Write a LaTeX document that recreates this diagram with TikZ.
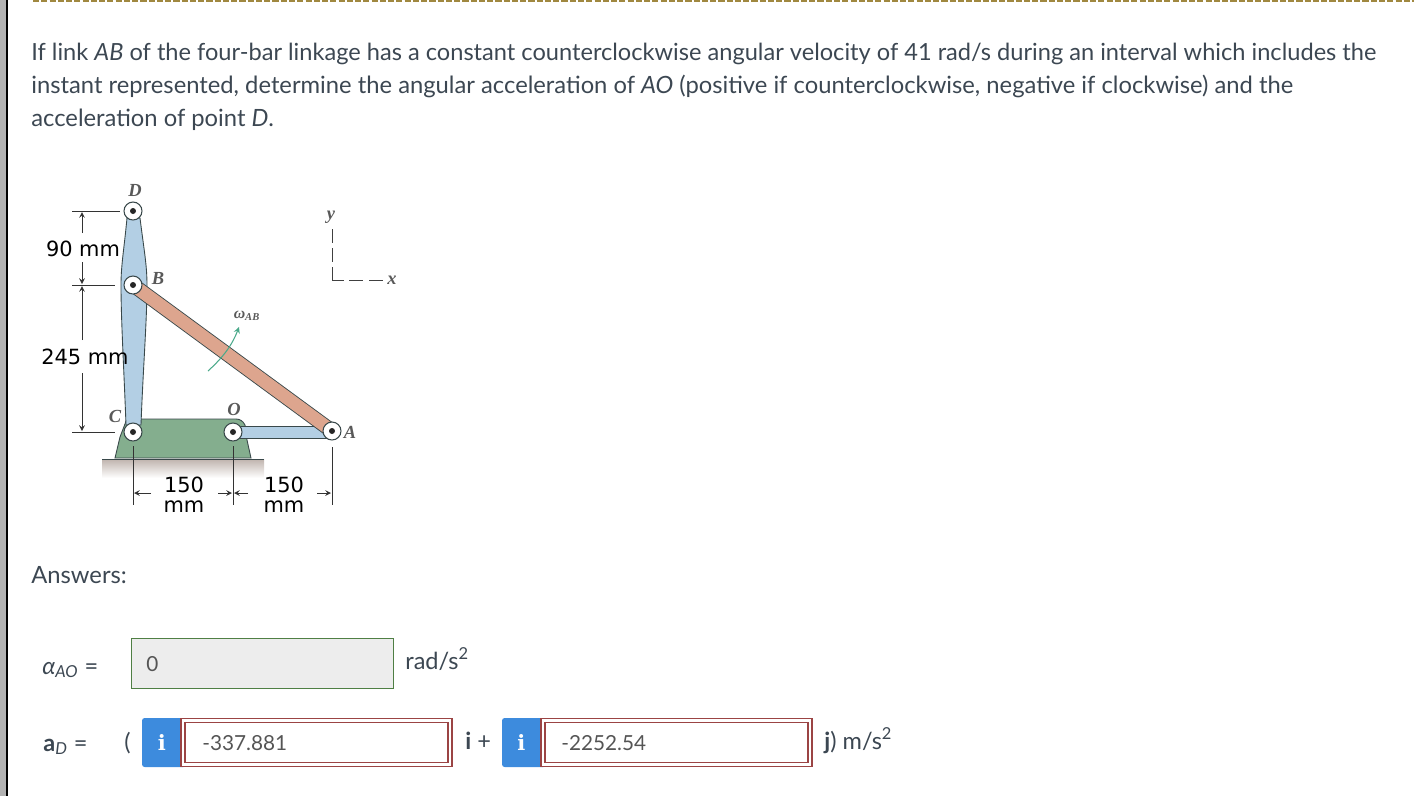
\documentclass[tikz,border=0pt]{standalone}
\usepackage{fontspec}
\setmainfont{Lato}
\newfontfamily\dimfont{DejaVu Sans}
\newfontfamily\figfont{Liberation Serif}
\newfontfamily\iconfont{DejaVu Serif}
\definecolor{textcol}{HTML}{3C4752}
\definecolor{valcol}{HTML}{555555}
\definecolor{bluelink}{HTML}{B3CFE4}
\definecolor{brownlink}{HTML}{DDA58E}
\definecolor{basegreen}{HTML}{84AE8E}
\definecolor{edgecol}{HTML}{39484A}
\definecolor{wrongred}{HTML}{9B4444}
\definecolor{okgreen}{HTML}{4F7F44}
\definecolor{infoblue}{HTML}{3D8BDD}
\definecolor{omegagreen}{HTML}{4AA98A}
\definecolor{dashcol}{HTML}{A08840}
\definecolor{groundcol}{HTML}{BFB3AD}
\tikzset{
	bodytext/.style={anchor=base west, inner sep=0, text=textcol, font=\fontsize{13.53}{18.8}\selectfont},
	unittext/.style={bodytext, font=\fontsize{13.4}{14}\selectfont},
	valtext/.style={anchor=base west, inner sep=0, text=valcol, font=\fontsize{11.8}{14}\selectfont},
	dimtext/.style={inner sep=0, text=black, font=\dimfont\fontsize{11.9}{12}\selectfont},
	stacktext/.style={dimtext, align=center, font=\dimfont\fontsize{11.9}{11.4}\selectfont},
	figlabel/.style={inner sep=0, text=black!65, font=\figfont\bfseries\itshape\fontsize{10.5}{12}\selectfont},
	pinnode/.style={circle, draw=edgecol, fill=white, line width=0.6pt, minimum size=0.36cm, inner sep=0},
	dimline/.style={draw=black!80, line width=0.45pt},
	dimarrow/.style={dimline, -stealth},
	wrongbox/.style={draw=wrongred, line width=0.9pt},
	infobox/.style={fill=infoblue, rounded corners=1.5pt},
	infotext/.style={inner sep=0, text=white, font=\iconfont\bfseries\fontsize{12}{14}\selectfont}
}
\begin{document}
\begin{tikzpicture}[x=0.02cm, y=-0.02cm]
	\useasboundingbox (0, 0) rectangle (1414, 796);
	
	%%%%% page %%%%%
	\fill[black!30] (0, 0) rectangle (6, 796);
	\fill[black] (6, 0) rectangle (7.5, 796);
	\draw[color=dashcol, line width=0.6pt, dash pattern=on 3.5pt off 1.2pt] (33, 1) -- (1414, 1);
	
	\node[bodytext, font=\fontsize{13.44}{18.8}\selectfont] (line1) at (31, 60) {If link \textit{AB} of the four-bar linkage has a constant counterclockwise angular velocity of 41 rad/s during an interval which includes the};
	\node[bodytext] (line2) at (31, 93) {instant represented, determine the angular acceleration of \textit{AO} (positive if counterclockwise, negative if clockwise) and the};
	\node[bodytext] (line3) at (31, 126) {acceleration of point \textit{D}.};
	
	%%%%% linkage %%%%%
	\coordinate (D) at (133, 211);
	\coordinate (B) at (133, 285);
	\coordinate (C) at (133, 432);
	\coordinate (O) at (233, 432);
	\coordinate (A) at (332, 431);
	
	\shade[top color=groundcol, bottom color=white] (102, 459) rectangle (264, 478);
	\draw[fill=basegreen, draw=edgecol, line width=0.5pt] (115, 458) -- (120, 437) -- (125, 424) .. controls (126, 420) and (127, 419) .. (130, 419) -- (236, 419) .. controls (240, 419) and (243, 421) .. (245, 425) -- (247, 440) -- (251, 458) -- cycle;
	\draw[edgecol, line width=0.5pt] (102, 459) -- (264, 459);
	
	\draw[fill=bluelink, draw=edgecol, line width=0.5pt] (127, 218) .. controls (124, 250) and (121, 265) .. (121, 285) .. controls (121, 320) and (124, 370) .. (126, 425) -- (141, 425) .. controls (143, 370) and (147, 320) .. (147, 285) .. controls (147, 265) and (144, 250) .. (140, 218) -- cycle;
	\draw[fill=bluelink, draw=edgecol, line width=0.5pt] (233, 426) rectangle (332, 438);
	\draw[line width=0.5pt, draw=edgecol, double=brownlink, double distance=0.26cm] (B) -- (A);
	
	\node[pinnode] (pinD) at (D) {};
	\node[pinnode] (pinB) at (B) {};
	\node[pinnode] (pinC) at (C) {};
	\node[pinnode] (pinO) at (O) {};
	\node[pinnode] (pinA) at (A) {};
	\fill[black!85] (D) circle (3);
	\fill[black!85] (B) circle (3);
	\fill[black!85] (C) circle (3);
	\fill[black!85] (O) circle (3);
	\fill[black!85] (A) circle (3);
	
	\draw[omegagreen, line width=0.6pt, -stealth] (208, 371) .. controls (220, 360) and (231, 348) .. (239, 327);
	
	\node[figlabel] (labD) at (135, 190) {D};
	\node[figlabel] (labB) at (158, 278) {B};
	\node[figlabel] (labC) at (115, 416) {C};
	\node[figlabel] (labO) at (234, 409) {O};
	\node[figlabel] (labA) at (350, 432) {A};
	\node[figlabel, font=\figfont\bfseries\itshape\fontsize{9}{11}\selectfont] (labw) at (247, 316) {ω\textsubscript{AB}};
	\node[figlabel] (laby) at (331, 217) {y};
	\node[figlabel] (labx) at (392, 280) {x};
	
	\draw[line width=0.55pt, black!75] (332, 229) -- (332, 243) (332, 248) -- (332, 262) (332, 267) -- (332, 280) -- (344, 280) (349, 280) -- (363, 280) (369, 280) -- (383, 280);
	
	%%%%% dimensions %%%%%
	\draw[dimline] (72, 211) -- (120, 211);
	\draw[dimline] (72, 285) -- (115, 285);
	\draw[dimline] (72, 432) -- (115, 432);
	\draw[dimarrow] (82, 233) -- (82, 212);
	\draw[dimarrow] (82, 262) -- (82, 284);
	\draw[dimarrow] (82, 340) -- (82, 286);
	\draw[dimarrow] (82, 373) -- (82, 431);
	
	\draw[dimline] (133, 446) -- (133, 505);
	\draw[dimline] (233, 446) -- (233, 505);
	\draw[dimline] (332, 447) -- (332, 505);
	\draw[dimarrow] (151, 493) -- (134, 493);
	\draw[dimarrow] (218, 493) -- (232, 493);
	\draw[dimarrow] (248, 493) -- (234, 493);
	\draw[dimarrow] (317, 493) -- (331, 493);
	
	\node[dimtext] (dimDB) at (83, 249) {90 mm};
	\node[dimtext] (dimBC) at (85, 357) {245 mm};
	\node[stacktext] (dimCO) at (184, 494.5) {150\\mm};
	\node[stacktext] (dimOA) at (284, 494.5) {150\\mm};
	
	%%%%% answers %%%%%
	\node[bodytext] (answers) at (31, 583) {Answers:};
	
	\node[unittext] (alphaAO) at (42, 674) {\textit{α\textsubscript{AO}} =};
	\draw[draw=okgreen, fill=black!7, line width=0.5pt] (131.5, 638.5) rectangle (393, 688);
	\node[valtext] (val0) at (146, 671) {0};
	\node[unittext] (unitAO) at (405, 669) {rad/s\textsuperscript{2}};
	
	\node[unittext] (aD) at (43, 751) {\textbf{a}\textit{\textsubscript{D}} =};
	\node[unittext] (paren) at (124, 750) {(};
	
	\fill[infobox] (142, 718) rectangle (186, 767);
	\fill[infoblue] (170, 718) rectangle (186, 767);
	\node[infotext] (infoI) at (162, 742) {i};
	\draw[wrongbox, fill=white] (181, 718.5) rectangle (452, 766.5);
	\draw[wrongbox] (185, 722.5) rectangle (448, 762.5);
	\node[valtext] (valI) at (202, 750) {-337.881};
	\node[unittext] (plusI) at (465, 749) {\textbf{i} +};
	
	\fill[infobox] (502, 718) rectangle (546, 767);
	\fill[infoblue] (530, 718) rectangle (546, 767);
	\node[infotext] (infoJ) at (521.5, 742) {i};
	\draw[wrongbox, fill=white] (541, 718.5) rectangle (812, 766.5);
	\draw[wrongbox] (545, 722.5) rectangle (808, 762.5);
	\node[valtext] (valJ) at (561, 750) {-2252.54};
	\node[unittext] (unitD) at (824, 749) {\textbf{j}) m/s\textsuperscript{2}};
\end{tikzpicture}
\end{document}
